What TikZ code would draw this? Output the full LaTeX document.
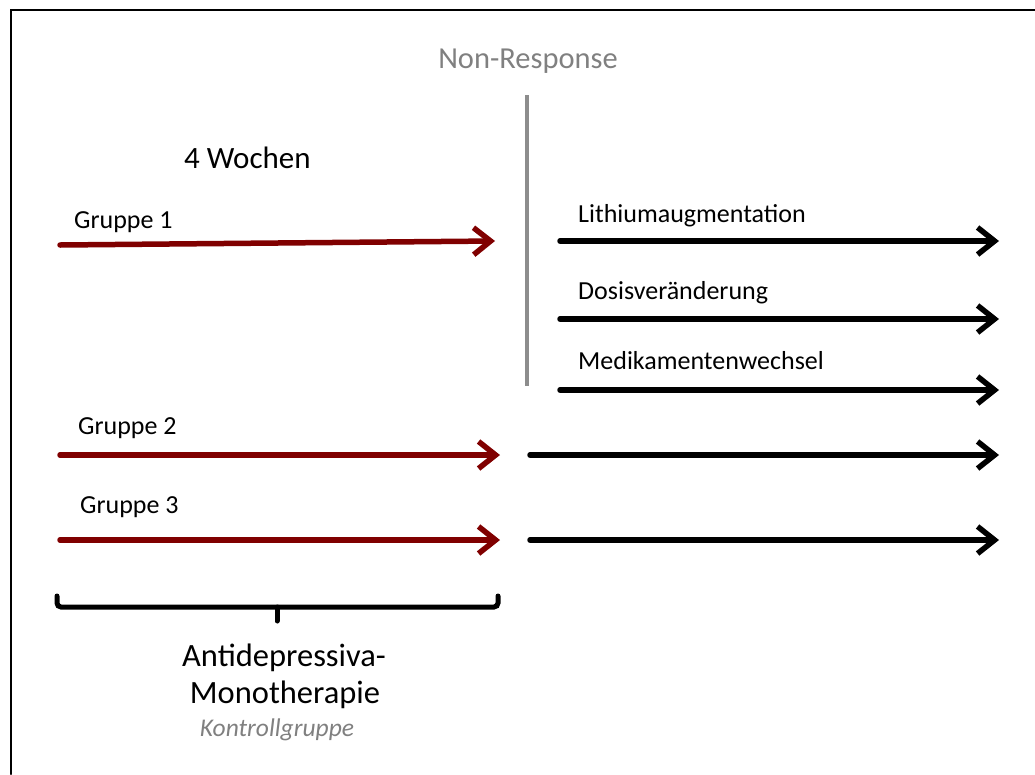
\documentclass[tikz,border=0pt]{standalone}
\usepackage{fontspec}
\setmainfont{Carlito}
\usepackage{tikz}
\usetikzlibrary{arrows.meta,positioning}

\definecolor{darkred}{RGB}{128,0,0}
\definecolor{midgray}{RGB}{128,128,128}

\begin{document}
\begin{tikzpicture}[x=1pt,y=-1pt,
                    >={Straight Barb[length=17pt,width=27pt,line width=5.5pt]},
                    line cap=round]
\tikzset{lbl/.style={anchor=base west,inner sep=0pt,font=\fontsize{26}{31}\selectfont},
         redarrow/.style={->,draw=darkred,line width=5.5pt},
         blackarrow/.style={->,draw=black,line width=5.5pt}}
\useasboundingbox (0,0) rectangle (1035,774);
\draw[line width=2pt] (11,774) -- (11,10) -- (1035,10);

% headings
\node[anchor=base,inner sep=0pt,text=midgray,font=\fontsize{30.5}{36}\selectfont] (nonresp) at (528,68) {Non-Response};
\node[anchor=base west,inner sep=0pt,font=\fontsize{31}{37}\selectfont] (weeks) at (184,168) {4 Wochen};
\coordinate (bartop) at (527,95);
\coordinate (barbot) at (527,386);
\draw[draw=midgray!90,line width=4pt,line cap=butt] (bartop) -- (barbot);

% group labels
\node[lbl] (g1) at (74,228) {Gruppe 1};
\node[lbl] (g2) at (78,434) {Gruppe 2};
\node[lbl] (g3) at (80,513) {Gruppe 3};
\node[lbl] (lith) at (578,222) {Lithiumaugmentation};
\node[lbl] (dosis) at (578,299) {Dosisveränderung};
\node[lbl] (medi) at (578,369) {Medikamentenwechsel};

% arrow end points
\coordinate (g1s) at (60,245);   \coordinate (g1e) at (495,241);
\coordinate (g2s) at (60,455);   \coordinate (g2e) at (500,455);
\coordinate (g3s) at (60,540);   \coordinate (g3e) at (500,540);
\coordinate (lis) at (560,241);  \coordinate (lie) at (999,241);
\coordinate (dos) at (560,319);  \coordinate (doe) at (999,319);
\coordinate (mes) at (560,390);  \coordinate (mee) at (999,390);
\coordinate (c2s) at (530,455);  \coordinate (c2e) at (999,455);
\coordinate (c3s) at (530,540);  \coordinate (c3e) at (999,540);

\draw[redarrow] (g1s) -- (g1e);
\draw[redarrow] (g2s) -- (g2e);
\draw[redarrow] (g3s) -- (g3e);
\draw[blackarrow] (lis) -- (lie);
\draw[blackarrow] (dos) -- (doe);
\draw[blackarrow] (mes) -- (mee);
\draw[blackarrow] (c2s) -- (c2e);
\draw[blackarrow] (c3s) -- (c3e);

% bracket
\coordinate (brl) at (57,596);
\coordinate (brr) at (498,596);
\coordinate (brm) at (277,621);
\draw[line width=5pt,rounded corners=4pt] (brl) -- (57,607) -- (498,607) -- (brr);
\draw[line width=5pt] (277,607) -- (brm);

\node[anchor=base,inner sep=0pt,font=\fontsize{32.5}{39}\selectfont] (anti) at (284,666) {Antidepressiva-};
\node[anchor=base,inner sep=0pt,font=\fontsize{32.5}{39}\selectfont] (mono) at (285,703) {Monotherapie};
\node[anchor=base,inner sep=0pt,text=midgray,font=\itshape\fontsize{25.5}{30}\selectfont] (kontr) at (277,736) {Kontrollgruppe};
\end{tikzpicture}
\end{document}
